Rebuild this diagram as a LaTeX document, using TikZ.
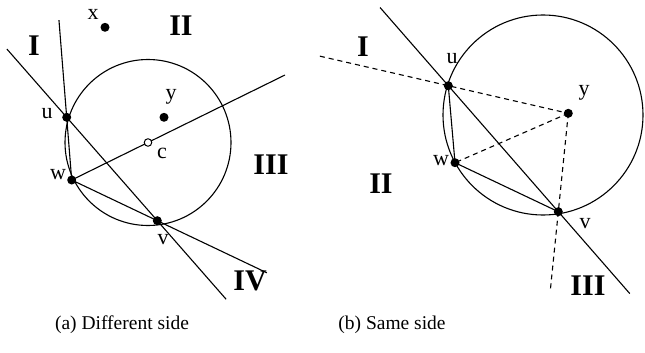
\documentclass[tikz,border=0pt]{standalone}
\usepackage{fontspec}
\setmainfont{Liberation Serif}
\usetikzlibrary{calc}
\tikzset{
  ln/.style={line width=1.1pt},
  dsh/.style={line width=1.1pt, dash pattern=on 5pt off 4pt},
  dot/.style={circle, fill=black, inner sep=0pt, minimum size=9pt},
  odot/.style={circle, draw=black, fill=white, line width=1pt, inner sep=0pt, minimum size=7.5pt},
  lbl/.style={font=\fontsize{22}{24}\selectfont, inner sep=0pt},
  reg/.style={font=\fontsize{30}{32}\selectfont\bfseries, inner sep=0pt},
  capt/.style={font=\fontsize{19.5}{22}\selectfont, inner sep=0pt}
}
\begin{document}
\begin{tikzpicture}[x=1pt,y=-1pt]
\useasboundingbox (0,0) rectangle (645,353);
% ---------- (a) ----------
\coordinate (ca) at (148,142.5);
\coordinate (ua) at (66.7,117.3);
\coordinate (wa) at (71.7,180);
\coordinate (va) at (157.3,220.7);
\coordinate (ya) at (164,117.3);
\coordinate (xa) at (105,27.3);
\draw[ln] (ca) circle[radius=83];
\coordinate (a1) at ($(ua)!-0.66!(va)$);
\coordinate (a2) at ($(ua)!1.76!(va)$);
\coordinate (a3) at ($(wa)!2.55!(ua)$);
\coordinate (a4) at (285,75);
\coordinate (a5) at ($(wa)!2.28!(va)$);
\draw[ln] (a1) -- (a2);
\draw[ln] (a3) -- (wa);
\draw[ln] (wa) -- (a4);
\draw[ln] (wa) -- (a5);
\node[dot] (nu) at (ua) {};
\node[dot] (nw) at (wa) {};
\node[dot] (nv) at (va) {};
\node[dot] (ny) at (ya) {};
\node[dot] (nx) at (xa) {};
\node[odot] (nc) at (ca) {};
\node[lbl] (lx) at (93,14) {x};
\node[lbl] (ly) at (171,97) {y};
\node[lbl] (lu) at (47,114) {u};
\node[lbl] (lw) at (58,175) {w};
\node[lbl] (lc) at (162,153) {c};
\node[lbl] (lv) at (163,240) {v};
\node[reg] (rI) at (34,46) {I};
\node[reg] (rII) at (181,26) {II};
\node[reg] (rIII) at (271,165) {III};
\node[reg] (rIV) at (250,281) {IV};
\node[capt] (capa) at (122,325) {(a) Different side};
% ---------- (b) ----------
\coordinate (cb) at (543,115);
\coordinate (ub) at (448.3,85.7);
\coordinate (wb) at (455,162.7);
\coordinate (vb) at (558.3,211.7);
\coordinate (yb) at (568.3,113.3);
\draw[ln] (cb) circle[radius=100];
\coordinate (b1) at ($(ub)!-0.62!(vb)$);
\coordinate (b2) at ($(ub)!1.65!(vb)$);
\coordinate (b3) at ($(ub)!-1.07!(yb)$);
\coordinate (b4) at ($(yb)!1.81!(vb)$);
\draw[ln] (b1) -- (b2);
\draw[ln] (ub) -- (wb) -- (vb);
\draw[dsh] (b3) -- (yb);
\draw[dsh] (yb) -- (wb);
\draw[dsh] (yb) -- (b4);
\node[dot] (mu) at (ub) {};
\node[dot] (mw) at (wb) {};
\node[dot] (mv) at (vb) {};
\node[dot] (my) at (yb) {};
\node[lbl] (ku) at (452,59) {u};
\node[lbl] (ky) at (584,93) {y};
\node[lbl] (kw) at (441,161) {w};
\node[lbl] (kv) at (585,224) {v};
\node[reg] (sI) at (363,47) {I};
\node[reg] (sII) at (381,184) {II};
\node[reg] (sIII) at (588,286) {III};
\node[capt] (capb) at (392,325) {(b) Same side};
\end{tikzpicture}
\end{document}
